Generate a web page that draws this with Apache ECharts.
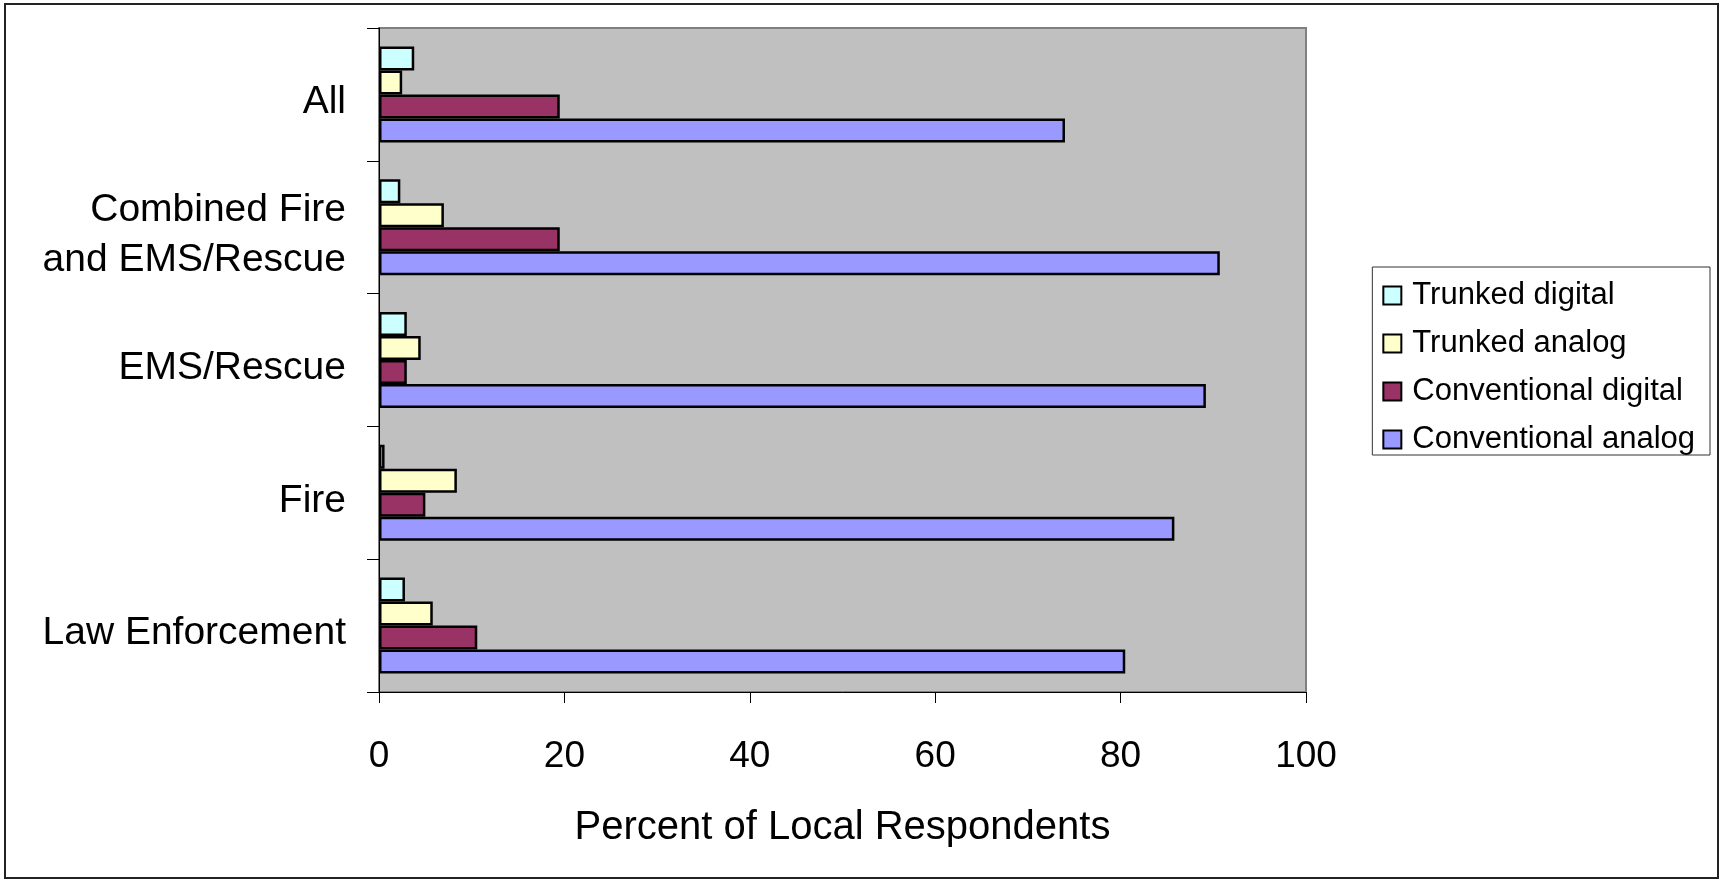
<!DOCTYPE html>
<html>
<head>
<meta charset="utf-8">
<script src="https://cdn.jsdelivr.net/npm/echarts@6/dist/echarts.min.js"></script>
<style>
html,body{margin:0;padding:0;background:#fff;}
#chart{width:1722px;height:882px;}
</style>
</head>
<body>
<div id="chart"></div>
<script>
const categories = ['Law Enforcement', 'Fire', 'EMS/Rescue', 'Combined Fire\nand EMS/Rescue', 'All'];
const conventionalAnalog = [80.5, 85.8, 89.2, 90.7, 74.0];
const conventionalDigital = [10.6, 5.0, 3.0, 19.5, 19.5];
const trunkedAnalog = [5.8, 8.4, 4.5, 7.0, 2.5];
const trunkedDigital = [2.8, 0.6, 3.0, 2.3, 3.8];
const xTicks = [0, 20, 40, 60, 80, 100];
const legendOrder = ['Trunked digital', 'Trunked analog', 'Conventional digital', 'Conventional analog'];

const FONT = "'Liberation Sans', Arial, sans-serif";
// first series is drawn at the top of each group
const seriesDefs = [
  {name: 'Trunked digital', data: trunkedDigital, color: '#CCFFFF'},
  {name: 'Trunked analog', data: trunkedAnalog, color: '#FFFFCC'},
  {name: 'Conventional digital', data: conventionalDigital, color: '#993366'},
  {name: 'Conventional analog', data: conventionalAnalog, color: '#9999FF'}
];

const chart = echarts.init(document.getElementById('chart'), null, {renderer: 'canvas'});
chart.setOption({
  animation: false,
  backgroundColor: '#ffffff',
  textStyle: {fontFamily: FONT},
  graphic: [{
    type: 'rect',
    shape: {x: 5, y: 4, width: 1713, height: 874},
    style: {fill: 'none', stroke: '#222', lineWidth: 2},
    silent: true, z: -10
  }],
  grid: {
    left: 379, top: 28, right: 416, bottom: 190,
    show: true, backgroundColor: '#C0C0C0', borderColor: '#808080', borderWidth: 2
  },
  legend: {
    orient: 'vertical',
    right: 12, top: 267,
    data: legendOrder,
    icon: 'rect',
    itemWidth: 18, itemHeight: 18, itemGap: 17,
    padding: [13, 15, 0, 10],
    backgroundColor: '#fff',
    borderColor: '#333', borderWidth: 1, borderRadius: 0,
    textStyle: {fontSize: 31, color: '#000', fontFamily: FONT, padding: [0, 0, 0, 6]}
  },
  xAxis: {
    type: 'value', min: 0, max: 100, interval: 20,
    name: 'Percent of Local Respondents',
    nameLocation: 'middle', nameGap: 116,
    nameTextStyle: {fontSize: 40, color: '#000', fontFamily: FONT},
    axisLine: {show: true, lineStyle: {color: '#000', width: 1}},
    axisTick: {show: true, length: 11, lineStyle: {color: '#000'}},
    axisLabel: {fontSize: 37, color: '#000', margin: 46, fontFamily: FONT,
      formatter: v => xTicks.includes(v) ? String(v) : ''},
    splitLine: {show: false}
  },
  yAxis: {
    type: 'category', data: categories,
    axisLine: {show: true, lineStyle: {color: '#000', width: 1}},
    axisTick: {show: true, length: 12, lineStyle: {color: '#000'}},
    axisLabel: {
      color: '#000', margin: 33, align: 'right', verticalAlign: 'middle', fontFamily: FONT,
      formatter: v => '{g| }\n' + v.split('\n').map(l => '{a|' + l + '}').join('\n'),
      rich: {
        g: {fontSize: 1, lineHeight: 16, align: 'right'},
        a: {fontSize: 39, lineHeight: 50, color: '#000', align: 'right', fontFamily: FONT}
      }
    }
  },
  series: seriesDefs.map(s => ({
    name: s.name, type: 'bar', data: s.data,
    barWidth: 24, barGap: '0%', barCategoryGap: '28%',
    itemStyle: {color: s.color, borderColor: '#000', borderWidth: 2.5}
  }))
});
</script>
</body>
</html>
